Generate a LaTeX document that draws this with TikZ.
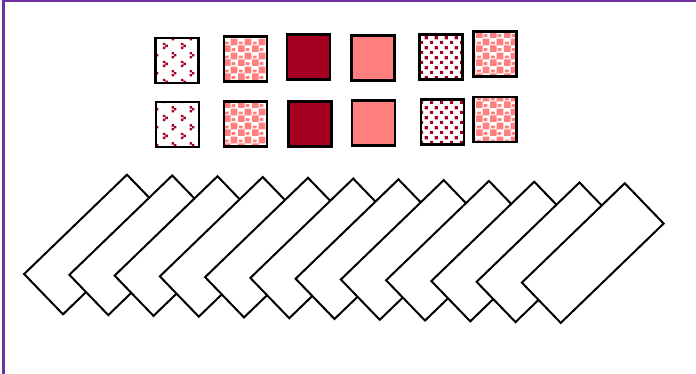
\documentclass[tikz,border=0pt]{standalone}
\usetikzlibrary{patterns}

\definecolor{wine}{RGB}{165,0,33}
\definecolor{salmon}{RGB}{255,127,127}
\definecolor{framepurple}{RGB}{112,48,160}

\pgfdeclarepatternformonly{sparsedots}{\pgfpointorigin}{\pgfqpoint{18pt}{18pt}}{\pgfqpoint{18pt}{18pt}}{%
  \pgfpathrectangle{\pgfqpoint{1pt}{1pt}}{\pgfqpoint{2.5pt}{2.5pt}}
  \pgfpathrectangle{\pgfqpoint{3.5pt}{3pt}}{\pgfqpoint{2.5pt}{2.5pt}}
  \pgfpathrectangle{\pgfqpoint{1pt}{5pt}}{\pgfqpoint{2.5pt}{2.5pt}}
  \pgfpathrectangle{\pgfqpoint{10pt}{10pt}}{\pgfqpoint{2.5pt}{2.5pt}}
  \pgfpathrectangle{\pgfqpoint{12.5pt}{12pt}}{\pgfqpoint{2.5pt}{2.5pt}}
  \pgfpathrectangle{\pgfqpoint{10pt}{14pt}}{\pgfqpoint{2.5pt}{2.5pt}}
  \pgfusepath{fill}}
\pgfdeclarepatternformonly{checker}{\pgfpointorigin}{\pgfqpoint{14pt}{14pt}}{\pgfqpoint{14pt}{14pt}}{%
  \pgfpathrectangle{\pgfqpoint{0pt}{0pt}}{\pgfqpoint{7pt}{7pt}}
  \pgfpathrectangle{\pgfqpoint{7pt}{7pt}}{\pgfqpoint{7pt}{7pt}}
  \pgfpathrectangle{\pgfqpoint{8pt}{1pt}}{\pgfqpoint{4pt}{3pt}}
  \pgfpathrectangle{\pgfqpoint{1pt}{8pt}}{\pgfqpoint{4pt}{3pt}}
  \pgfusepath{fill}}
\pgfdeclarepatternformonly{densesquares}{\pgfpointorigin}{\pgfqpoint{10pt}{10pt}}{\pgfqpoint{10pt}{10pt}}{%
  \pgfpathrectangle{\pgfqpoint{0pt}{0pt}}{\pgfqpoint{3.5pt}{3.5pt}}
  \pgfpathrectangle{\pgfqpoint{5pt}{5pt}}{\pgfqpoint{3.5pt}{3.5pt}}
  \pgfusepath{fill}}

\begin{document}
\begin{tikzpicture}[x=1pt, y=-1pt,
    tile/.style={draw=black, line width=2.4pt, minimum width=43pt, minimum height=45pt, inner sep=0pt},
    plank/.style={draw=black, fill=white, line width=2pt, minimum width=143pt, minimum height=56pt, inner sep=0pt, rotate=44}]
    \useasboundingbox (0,0) rectangle (696,374);
    \draw[framepurple, line width=2.5pt] (3.3,374) -- (3.3,1) -- (696,1);

    \node[tile, pattern=sparsedots, pattern color=wine] (a1) at (177,60.5) {};
    \node[tile, pattern=checker, pattern color=salmon] (b1) at (245.5,59) {};
    \node[tile, fill=wine] (c1) at (308.5,57) {};
    \node[tile, fill=salmon] (d1) at (373,58) {};
    \node[tile, pattern=densesquares, pattern color=wine] (e1) at (441,57) {};
    \node[tile, pattern=checker, pattern color=salmon] (f1) at (495,54) {};

    \node[tile, pattern=sparsedots, pattern color=wine] (a2) at (177.5,124.5) {};
    \node[tile, pattern=checker, pattern color=salmon] (b2) at (245.5,124) {};
    \node[tile, fill=wine] (c2) at (310,124) {};
    \node[tile, fill=salmon] (d2) at (373.5,123) {};
    \node[tile, pattern=densesquares, pattern color=wine] (e2) at (442.5,122) {};
    \node[tile, pattern=checker, pattern color=salmon] (f2) at (495,119.5) {};

   \foreach \i in {0,...,11} {
    \node[plank] (p\i) at ({95+45.25*\i},{244.5+0.78*\i}) {};
}
\end{tikzpicture}
\end{document}
